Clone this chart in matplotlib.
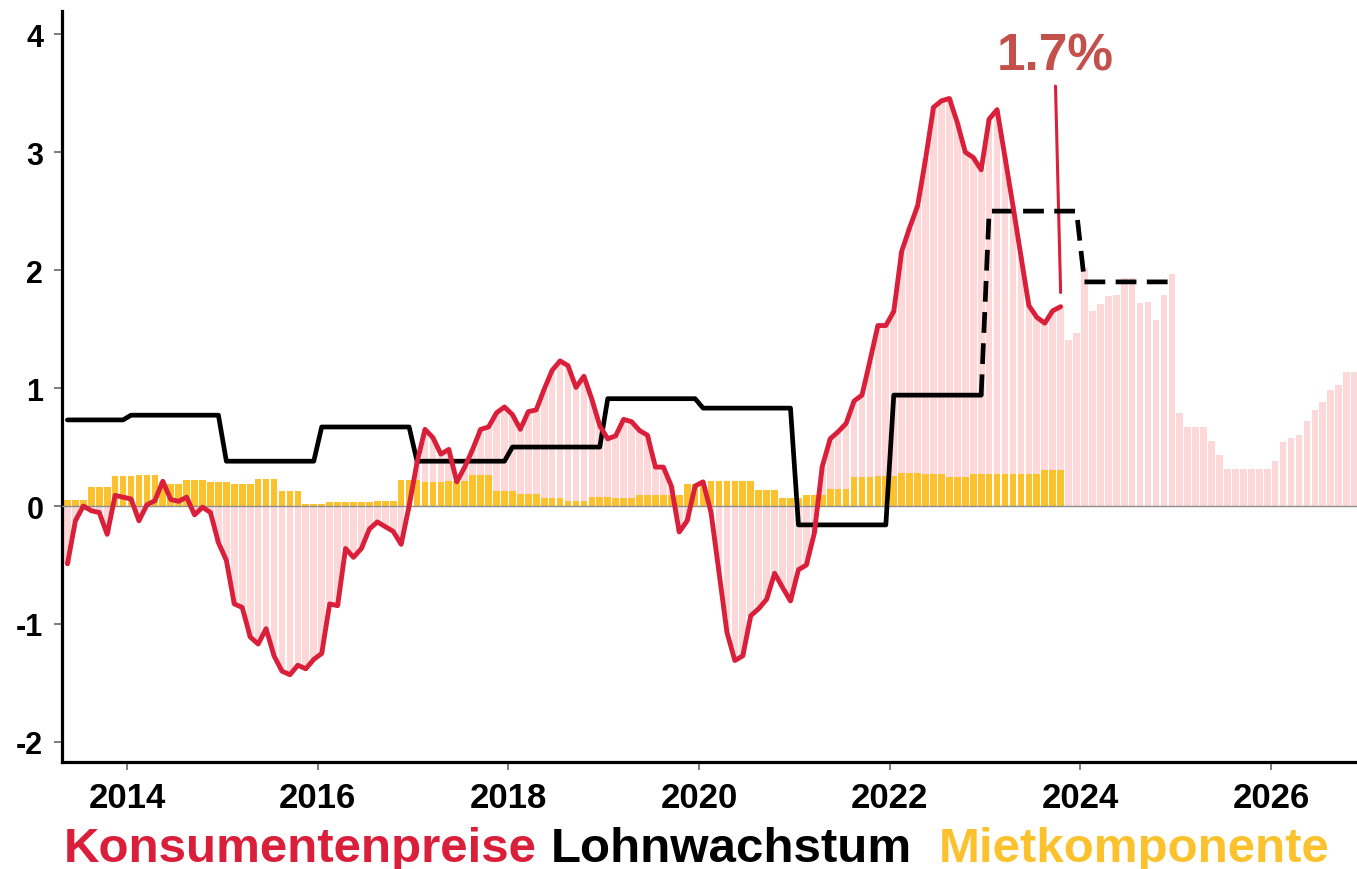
import matplotlib

matplotlib.use("Agg")
import matplotlib.pyplot as plt
import numpy as np

plt.rcParams["font.family"] = ["Liberation Sans", "DejaVu Sans"]
plt.rcParams["axes.unicode_minus"] = False

# consumer prices, % yoy, monthly May 2013 - Oct 2023
cpi = [
    -0.49, -0.125, 0.0, -0.04, -0.055, -0.24, 0.09, 0.075,
    0.06, -0.125, 0.01, 0.045, 0.21, 0.055, 0.04, 0.075, -0.075, -0.01, -0.055, -0.31,
    -0.46, -0.83, -0.86, -1.11, -1.17, -1.04, -1.27, -1.40, -1.43, -1.35, -1.38, -1.30,
    -1.25, -0.83, -0.845, -0.36, -0.435, -0.36, -0.195, -0.135, -0.175, -0.215, -0.325, 0.0,
    0.37, 0.65, 0.58, 0.44, 0.48, 0.205, 0.33, 0.48, 0.65, 0.67, 0.79, 0.84,
    0.775, 0.65, 0.80, 0.815, 0.99, 1.15, 1.23, 1.19, 1.005, 1.10, 0.905, 0.68,
    0.57, 0.595, 0.735, 0.715, 0.64, 0.60, 0.33, 0.33, 0.17, -0.22, -0.125, 0.17,
    0.205, -0.055, -0.56, -1.07, -1.31, -1.27, -0.93, -0.87, -0.79, -0.57, -0.69, -0.805,
    -0.54, -0.50, -0.23, 0.335, 0.57, 0.63, 0.70, 0.89, 0.94, 1.23, 1.53, 1.53,
    1.65, 2.16, 2.36, 2.545, 2.94, 3.38, 3.435, 3.455, 3.25, 3.00, 2.955, 2.85,
    3.28, 3.36, 2.955, 2.545, 2.12, 1.70, 1.60, 1.55, 1.655, 1.69,
]

# forecast bars, Nov 2023 - Nov 2026
cpi_forecast = [
    1.41, 1.47,
    2.02, 1.65, 1.71, 1.78, 1.79, 1.93, 1.93, 1.72, 1.73, 1.58, 1.79, 1.97,
    0.79, 0.67, 0.67, 0.67, 0.55, 0.43, 0.31, 0.31, 0.31, 0.31, 0.31, 0.31,
    0.38, 0.54, 0.58, 0.60, 0.72, 0.81, 0.88, 0.98, 1.03, 1.14, 1.14,
]

# rent component, quarterly (May 2013 ... Aug 2023), 3 months each
rent_quarterly = [
    0.05, 0.16, 0.255,
    0.26, 0.19, 0.22, 0.20,
    0.19, 0.23, 0.13, 0.015,
    0.035, 0.03, 0.04, 0.22,
    0.20, 0.215, 0.26, 0.13,
    0.105, 0.065, 0.045, 0.08,
    0.07, 0.095, 0.09, 0.185,
    0.21, 0.21, 0.14, 0.07,
    0.09, 0.145, 0.25, 0.255,
    0.28, 0.27, 0.25, 0.275,
    0.275, 0.27, 0.305,
]

# wage growth, yearly
wage_years = [2013, 2014, 2015, 2016, 2017, 2018, 2019, 2020, 2021, 2022]
wage = [0.73, 0.77, 0.38, 0.67, 0.38, 0.50, 0.91, 0.83, -0.16, 0.94]
wage_forecast_years = [2023, 2024]
wage_forecast = [2.5, 1.9]

tick_years = [2014, 2016, 2018, 2020, 2022, 2024, 2026]
y_ticks = [-2, -1, 0, 1, 2, 3, 4]

RED = "#d91f3a"
PINK = "#fdd8d9"
YELLOW = "#fbc22d"
LABEL_RED = "#c4504c"


def month_positions(year, month, n):
    # mid-month positions in decimal years
    return year + (month - 1 + np.arange(n) + 0.5) / 12


t_hist = month_positions(2013, 5, len(cpi))
t_all = month_positions(2013, 5, len(cpi) + len(cpi_forecast))
bars_all = np.concatenate([cpi, cpi_forecast])
rent = np.repeat(rent_quarterly, 3)

months_per_year = [8] + [12] * (len(wage_years) - 1)
wage_monthly = np.repeat(wage, months_per_year)
t_wage = month_positions(2013, 5, len(wage_monthly))
wage_fc_monthly = np.concatenate([[wage[-1]], np.repeat(wage_forecast, 12)])
t_wage_fc = month_positions(2022, 12, len(wage_fc_monthly))

fig = plt.figure(figsize=(13.57, 8.70), dpi=100)
ax = fig.add_axes([0.0457, 0.123, 0.9543, 0.863])

w = 0.84 / 12
ax.bar(t_all, bars_all, width=w, color=PINK, zorder=1)
ax.bar(t_hist, rent, width=w, color=YELLOW, zorder=2)
ax.axhline(0, color="#8c8c8c", lw=1.0, zorder=3)

ax.plot(t_wage, wage_monthly, color="black", lw=3.4, zorder=4,
        solid_joinstyle="round", solid_capstyle="round")
ax.plot(t_wage_fc, wage_fc_monthly, color="black", lw=3.4, zorder=4,
        dashes=(4.4, 2.2))
ax.plot(t_hist, cpi, color=RED, lw=3.5, zorder=5,
        solid_joinstyle="round", solid_capstyle="round")

ax.annotate("1.7%", xy=(t_hist[-1], cpi[-1] + 0.12), xytext=(2023.73, 3.70),
            ha="center", va="baseline", fontsize=37, fontweight="bold",
            color=LABEL_RED,
            arrowprops=dict(arrowstyle="-", color=RED, lw=2.2,
                            shrinkA=2, shrinkB=0))

ax.set_xlim(2013.318, 2026.90)
ax.set_ylim(-2.17, 4.195)
ax.set_xticks(tick_years)
ax.set_xticklabels([str(y) for y in tick_years])
ax.set_yticks(y_ticks)
ax.set_yticklabels([str(v) for v in y_ticks])

for side in ["top", "right"]:
    ax.spines[side].set_visible(False)
for side in ["left", "bottom"]:
    ax.spines[side].set_linewidth(2.3)
    ax.spines[side].set_color("black")

ax.tick_params(axis="both", color="#666666", width=1.2, length=5.5)
ax.tick_params(axis="y", labelsize=22, pad=8)
ax.tick_params(axis="x", labelsize=25, pad=8)
for lab in ax.get_xticklabels() + ax.get_yticklabels():
    lab.set_fontweight("bold")

legend_items = [
    ("Konsumentenpreise", RED, 0.047),
    ("Lohnwachstum", "black", 0.406),
    ("Mietkomponente", YELLOW, 0.6915),
]
for text, color, xpos in legend_items:
    fig.text(xpos, 0.009, text, color=color, fontsize=35.5, fontweight="bold",
             ha="left", va="baseline")

fig.savefig("out.png", dpi=100)
plt.close(fig)
